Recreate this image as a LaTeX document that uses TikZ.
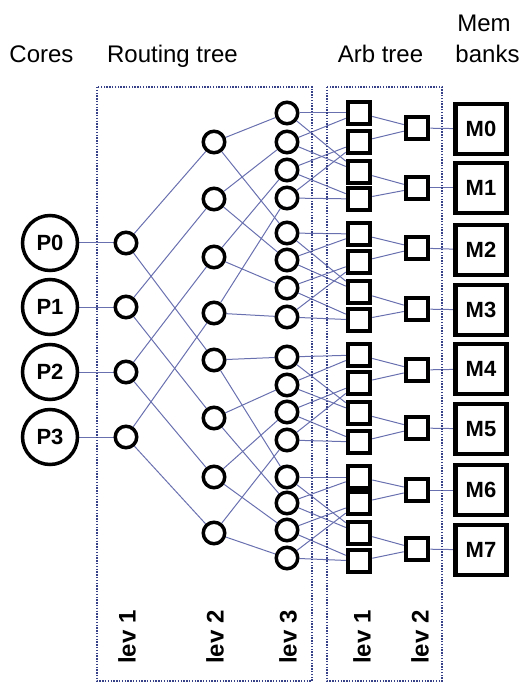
\documentclass[tikz,border=0pt]{standalone}
\usepackage{fontspec}
\setmainfont{Liberation Sans}
\usetikzlibrary{backgrounds}
\definecolor{wirec}{RGB}{105,112,175}
\definecolor{dotc}{RGB}{55,65,135}
\begin{document}
\begin{tikzpicture}[x=1pt,y=-1pt,
  core/.style={circle,draw,line width=3.5pt,minimum size=55pt,inner sep=0pt,fill=white,font=\bfseries\fontsize{22}{22}\selectfont},
  rnode/.style={circle,draw,line width=3.5pt,minimum size=21.5pt,inner sep=0pt,fill=white},
  asq/.style={rectangle,draw,line width=4pt,minimum size=22.5pt,inner sep=0pt,fill=white},
  bank/.style={rectangle,draw,line width=4.5pt,minimum width=51pt,minimum height=50pt,inner sep=0pt,fill=white,font=\bfseries\fontsize{22}{22}\selectfont},
  wire/.style={draw=wirec,line width=1pt},
  dotbox/.style={draw=dotc,line width=2.2pt,dash pattern=on 1.4pt off 1.4pt},
  title/.style={anchor=base,font=\fontsize{24}{24}\selectfont},
  levlab/.style={rotate=90,font=\bfseries\fontsize{24}{24}\selectfont}]
\useasboundingbox (0,0) rectangle (521,684);
% titles
\node[title] (tc) at (41.5,63) {Cores};
\node[title] (tr) at (172.5,63) {Routing tree};
\node[title] (ta) at (380.5,63) {Arb tree};
\node[title] (tm1) at (484,32) {Mem};
\node[title] (tm2) at (487.5,63) {banks};
% dotted boxes
\draw[dotbox] (97,87) rectangle (312,681);
\draw[dotbox] (327,87) rectangle (442,681);
% cores and lev1
\foreach \i/\y in {0/243,1/307,2/372,3/437} {
  \node[core] (c\i) at (50,\y) {P\i};
  \node[rnode] (a\i) at (126,\y) {};
}
% routing lev2
\foreach \y [count=\n from 0] in {142,199,257,313,360,418,477,533}
  \node[rnode] (b\n) at (214,\y) {};
% routing lev3
\foreach \y [count=\n from 0] in {113,142,170,198,233,260,288,317,357,385,412,440,477,503,530,558}
  \node[rnode] (d\n) at (287,\y) {};
% arb lev1
\foreach \y [count=\n from 0] in {113,142,172,199,234,262,292,320,355,383,413,442,477,503,533,561}
  \node[asq] (s\n) at (359,\y) {};
% arb lev2 and banks
\foreach \y/\my [count=\n from 0] in {128/129,188/188,248/250,309/310,370/369,428/429,490/490,549/550} {
  \node[asq] (t\n) at (417,\y) {};
  \node[bank] (m\n) at (481,\my) {M\n};
}
% lev labels
\node[levlab] (l1) at (127,637) {lev 1};
\node[levlab] (l2) at (215,637) {lev 2};
\node[levlab] (l3) at (288,637) {lev 3};
\node[levlab] (l4) at (362,637) {lev 1};
\node[levlab] (l5) at (420,637) {lev 2};
% wires
\begin{pgfonlayer}{background}
\foreach \i [evaluate=\i as \k using int(\i+4)] in {0,...,3} {
  \draw[wire] (c\i) -- (a\i);
  \draw[wire] (a\i) -- (b\i);
  \draw[wire] (a\i) -- (b\k);
}
\foreach \j [evaluate=\j as \k using int(\j+4),
             evaluate=\j as \p using int(\j+4),
             evaluate=\j as \q using int(\j+8),
             evaluate=\j as \r using int(\j+12)] in {0,...,3} {
  \draw[wire] (b\j) -- (d\j);
  \draw[wire] (b\j) -- (d\k);
  \draw[wire] (b\p) -- (d\q);
  \draw[wire] (b\p) -- (d\r);
}
\foreach \g [evaluate=\g as \o using int(4*\g),
             evaluate=\g as \oa using int(4*\g+1),
             evaluate=\g as \ob using int(4*\g+2),
             evaluate=\g as \oc using int(4*\g+3)] in {0,...,3} {
  \draw[wire] (d\o) -- (s\o);
  \draw[wire] (d\o) -- (s\ob);
  \draw[wire] (d\oa) -- (s\o);
  \draw[wire] (d\oa) -- (s\ob);
  \draw[wire] (d\ob) -- (s\oa);
  \draw[wire] (d\ob) -- (s\oc);
  \draw[wire] (d\oc) -- (s\oa);
  \draw[wire] (d\oc) -- (s\oc);
}
\foreach \k [evaluate=\k as \u using int(2*\k),
             evaluate=\k as \v using int(2*\k+1)] in {0,...,7} {
  \draw[wire] (s\u) -- (t\k);
  \draw[wire] (s\v) -- (t\k);
  \draw[wire] (t\k) -- (m\k);
}
\end{pgfonlayer}
\end{tikzpicture}
\end{document}
